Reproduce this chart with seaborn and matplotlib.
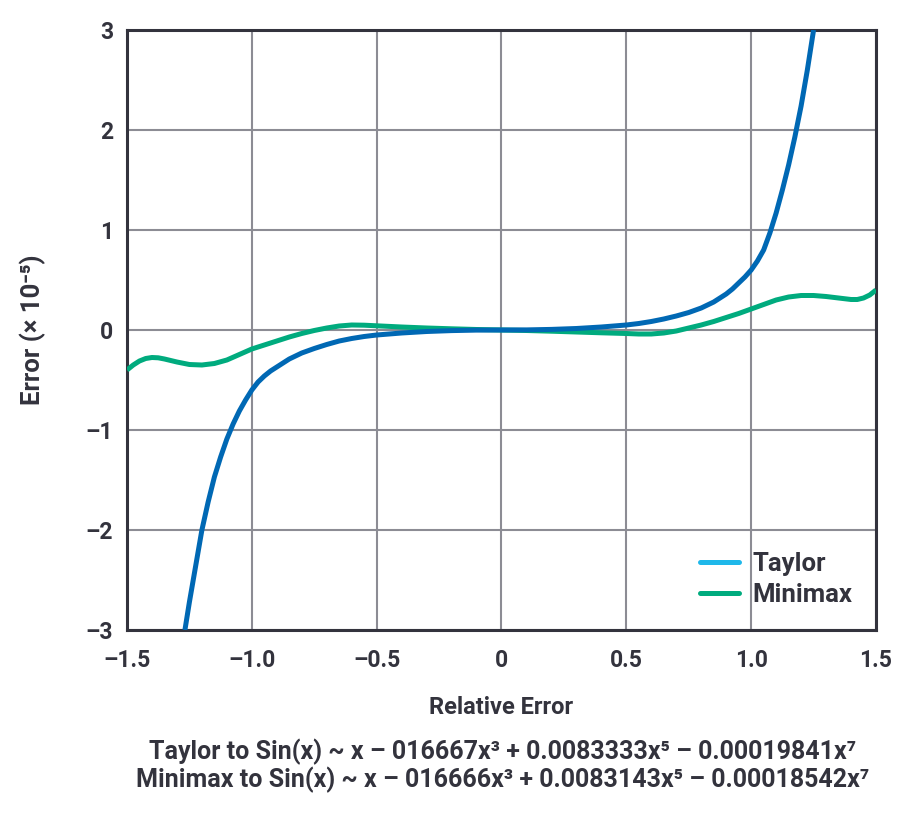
import numpy as np
import pandas as pd
import seaborn as sns
import matplotlib
matplotlib.use("Agg")
import matplotlib.pyplot as plt
from matplotlib.lines import Line2D

# ---- data ----
taylor_x = [-1.268, -1.25, -1.225, -1.2, -1.175, -1.15, -1.125, -1.1, -1.075, -1.05, -1.025, -1.0,
            -0.975, -0.95, -0.925, -0.9, -0.85, -0.8, -0.75, -0.7, -0.65, -0.6, -0.55, -0.5, -0.4, -0.3,
            -0.2, -0.1, 0.0, 0.1, 0.2, 0.3, 0.4, 0.5, 0.55, 0.6, 0.65, 0.7, 0.75, 0.8, 0.85, 0.9, 0.925,
            0.95, 0.975, 1.0, 1.025, 1.05, 1.075, 1.1, 1.125, 1.15, 1.175, 1.2, 1.225, 1.25]
taylor_y = [-3.0, -2.72, -2.36, -2.0, -1.72, -1.47, -1.27, -1.09, -0.94, -0.81, -0.7, -0.6,
            -0.52, -0.46, -0.41, -0.37, -0.29, -0.23, -0.185, -0.145, -0.11, -0.085, -0.065, -0.05, -0.03, -0.015,
            -0.006, -0.001, 0.0, 0.001, 0.006, 0.015, 0.03, 0.05, 0.065, 0.085, 0.11, 0.14, 0.175, 0.22, 0.28, 0.36,
            0.41, 0.47, 0.53, 0.6, 0.69, 0.8, 0.97, 1.17, 1.4, 1.65, 1.93, 2.24, 2.6, 3.0]

minimax_x = [-1.5, -1.475, -1.45, -1.425, -1.4, -1.375, -1.35, -1.3, -1.25, -1.2, -1.15, -1.1, -1.05,
             -1.0, -0.95, -0.9, -0.85, -0.8, -0.75, -0.7, -0.65, -0.6, -0.55, -0.5, -0.4, -0.3, -0.2, -0.1,
             0.0, 0.1, 0.2, 0.3, 0.4, 0.5, 0.55, 0.6, 0.65, 0.7, 0.75, 0.8, 0.85, 0.9, 0.95, 1.0, 1.05,
             1.1, 1.15, 1.2, 1.25, 1.3, 1.35, 1.4, 1.425, 1.45, 1.475, 1.5]
minimax_y = [-0.40, -0.35, -0.31, -0.285, -0.275, -0.278, -0.29, -0.32, -0.345, -0.35, -0.335, -0.30, -0.245,
             -0.19, -0.15, -0.11, -0.07, -0.035, -0.005, 0.02, 0.04, 0.05, 0.048, 0.042, 0.03, 0.02, 0.012, 0.005,
             0.0, -0.005, -0.012, -0.02, -0.028, -0.035, -0.04, -0.04, -0.03, -0.01, 0.02, 0.05, 0.085, 0.125,
             0.165, 0.21, 0.255, 0.30, 0.33, 0.345, 0.345, 0.335, 0.32, 0.305, 0.305, 0.32, 0.35, 0.40]

x_ticks = [-1.5, -1.0, -0.5, 0.0, 0.5, 1.0, 1.5]
x_ticklabels = ["\u20131.5", "\u20131.0", "\u20130.5", "0", "0.5", "1.0", "1.5"]
y_ticks = [-3, -2, -1, 0, 1, 2, 3]
y_ticklabels = ["\u20133", "\u20132", "\u20131", "0", "1", "2", "3"]

series_names = ["Taylor", "Minimax"]
caption_lines = [
    "Taylor to Sin(x) ~ x \u2013 016667x\u00b3 + 0.0083333x\u2075 \u2013 0.00019841x\u2077",
    "Minimax to Sin(x) ~ x \u2013 016666x\u00b3 + 0.0083143x\u2075 \u2013 0.00018542x\u2077",
]

# ---- styling ----
sns.set_theme(style="white")
FAM = ["Roboto", "DejaVu Sans"]
plt.rcParams["font.family"] = FAM
TXT = "#33333d"
BLUE = "#0068b4"
GREEN = "#00ab7e"
CYAN = "#1fb8ea"
GRID = "#8c8c94"
SPINE = "#33333d"

fig = plt.figure(figsize=(9.12, 8.15), dpi=100)
ax = fig.add_axes([127 / 912, 1 - 630 / 815, 749 / 912, 600 / 815])

df_m = pd.DataFrame({"x": minimax_x, "y": minimax_y})
df_t = pd.DataFrame({"x": taylor_x, "y": taylor_y})
sns.lineplot(data=df_m, x="x", y="y", ax=ax, color=GREEN, linewidth=3.6, sort=True, zorder=3)
sns.lineplot(data=df_t, x="x", y="y", ax=ax, color=BLUE, linewidth=3.6, sort=True, zorder=4)
for l in ax.get_lines():
    l.set_solid_capstyle("butt")
    l.set_solid_joinstyle("round")

ax.set_xlim(-1.5, 1.5)
ax.set_ylim(-3, 3)
ax.set_xticks(x_ticks)
ax.set_xticklabels(x_ticklabels)
ax.set_yticks(y_ticks)
ax.set_yticklabels(y_ticklabels)
ax.grid(True, color=GRID, linewidth=1.5)
ax.set_axisbelow(True)
for s in ax.spines.values():
    s.set_color(SPINE)
    s.set_linewidth(2.2)
    s.set_visible(True)
ax.tick_params(axis="both", length=0, colors=TXT, labelsize=16.5)
ax.tick_params(axis="x", pad=14)
ax.tick_params(axis="y", pad=10)
for lab in ax.get_xticklabels() + ax.get_yticklabels():
    lab.set_fontweight("bold")
    lab.set_color(TXT)

ax.set_xlabel("Relative Error", fontsize=17, fontweight="bold", color=TXT)
ax.xaxis.set_label_coords(0.5, -(707 - 630) / 600)
ax.xaxis.label.set_va("center")
ax.set_ylabel("Error (\u00d7 10\u207b\u2075)", fontsize=18.5, fontweight="bold", color=TXT)
ax.yaxis.set_label_coords(-(127 - 33) / 749, 0.5)
ax.yaxis.label.set_va("center")

handles = [Line2D([0], [0], color=CYAN, linewidth=3.6), Line2D([0], [0], color=GREEN, linewidth=3.6)]
leg = ax.legend(handles, series_names, loc="lower right", frameon=False, fontsize=18.5,
                handlelength=1.5, handletextpad=0.55, labelspacing=0.25,
                bbox_to_anchor=(1.0, 0.0))
for t in leg.get_texts():
    t.set_fontweight("bold")
    t.set_color(TXT)

for i, line in enumerate(caption_lines):
    fig.text(503 / 912, 1 - (752 + 28 * i) / 815, line, ha="center", va="center",
             fontsize=18, fontweight="bold", color=TXT, family=FAM)

fig.savefig("out.png", dpi=100, facecolor="white")
